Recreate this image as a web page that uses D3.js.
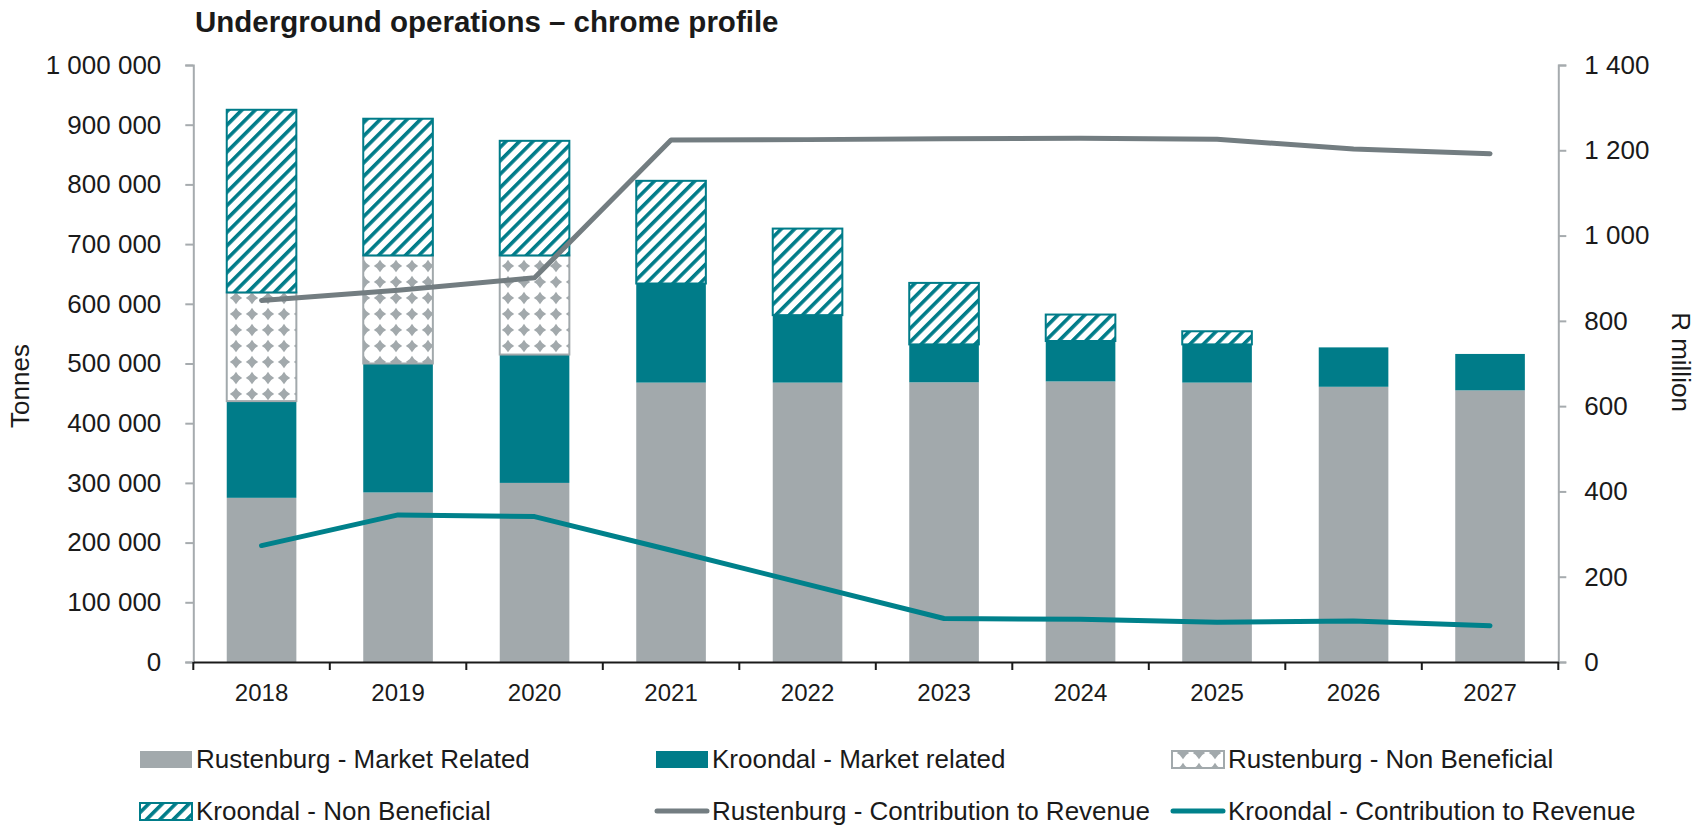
<!DOCTYPE html>
<html>
<head>
<meta charset="utf-8">
<script src="https://cdn.jsdelivr.net/npm/d3@7"></script>
<style>
  body { margin: 0; background: #fff; }
  svg text { font-family: "Liberation Sans", Arial, sans-serif; fill: #1a1a1a; }
</style>
</head>
<body>
<div id="chart"></div>
<script>
const years = ['2018', '2019', '2020', '2021', '2022', '2023', '2024', '2025', '2026', '2027'];

// tonnes
const rustMarket = [275000, 284000, 300000, 468000, 468000, 468500, 470000, 468000, 461000, 455000];
const kroonMarket = [162000, 216000, 215000, 166000, 113000, 63500, 67700, 64000, 66000, 61000];
const rustNonBen = [182000, 181000, 166000, 0, 0, 0, 0, 0, 0, 0];
const kroonNonBen = [306000, 229000, 192000, 172000, 145000, 103000, 44300, 22000, 0, 0];

// R million
const rustRevenue = [848, 872, 901, 1224, 1225, 1227, 1228, 1226, 1203, 1192];
const kroonRevenue = [273, 345, 341, 262, 182, 102, 100, 93, 96, 85];

const leftTicks = [0, 100000, 200000, 300000, 400000, 500000, 600000, 700000, 800000, 900000, 1000000];
const rightTicks = [0, 200, 400, 600, 800, 1000, 1200, 1400];

const W = 1704, H = 827;
const plotLeft = 193.3, plotRight = 1558.3, plotTop = 65, plotBottom = 662;

const grey = '#a2a9ac', teal = '#007c89', greyLine = '#737d81', tealLine = '#00818b';

const svg = d3.select('#chart').append('svg')
  .attr('width', W)
  .attr('height', H);

// patterns
const defs = svg.append('defs');
const hatch = defs.append('pattern')
  .attr('id', 'hatch')
  .attr('patternUnits', 'userSpaceOnUse')
  .attr('width', 9.5)
  .attr('height', 9.5)
  .attr('patternTransform', 'rotate(45)');
hatch.append('rect').attr('width', 9.5).attr('height', 9.5).attr('fill', '#fff');
hatch.append('rect').attr('width', 3.6).attr('height', 9.5).attr('fill', teal);

// grey diamonds on white
const dots = defs.append('pattern')
  .attr('id', 'dots')
  .attr('patternUnits', 'userSpaceOnUse')
  .attr('width', 16)
  .attr('height', 16)
  .attr('x', 4)
  .attr('y', 2);
dots.append('rect').attr('width', 16).attr('height', 16).attr('fill', '#fff');
dots.append('path')
  .attr('transform', 'translate(8,8)')
  .attr('d', 'M0,-6.2 Q1.9,-1.9 6.2,0 Q1.9,1.9 0,6.2 Q-1.9,1.9 -6.2,0 Q-1.9,-1.9 0,-6.2 Z')
  .attr('fill', grey);

const x = d3.scaleBand()
  .domain(years)
  .range([plotLeft, plotRight])
  .paddingInner(0.49)
  .paddingOuter(0.245);

const y = d3.scaleLinear().domain([0, 1000000]).range([plotBottom, plotTop]);
const y2 = d3.scaleLinear().domain([0, 1400]).range([plotBottom, plotTop]);

const rows = years.map((yr, i) => ({
  year: yr,
  rustMarket: rustMarket[i],
  kroonMarket: kroonMarket[i],
  rustNonBen: rustNonBen[i],
  kroonNonBen: kroonNonBen[i]
}));

const keys = ['rustMarket', 'kroonMarket', 'rustNonBen', 'kroonNonBen'];
const fills = {
  rustMarket: grey,
  kroonMarket: teal,
  rustNonBen: 'url(#dots)',
  kroonNonBen: 'url(#hatch)'
};
const strokes = {
  rustMarket: 'none',
  kroonMarket: 'none',
  rustNonBen: grey,
  kroonNonBen: teal
};

const stacked = d3.stack().keys(keys)(rows);

// axes
const fmt = d => d3.format(',')(d).replace(/,/g, ' ');

const yAxis = d3.axisLeft(y).tickValues(leftTicks).tickSize(8).tickPadding(24).tickFormat(fmt);
const gy = svg.append('g')
  .attr('transform', `translate(${plotLeft},0)`)
  .call(yAxis);
gy.select('.domain').attr('stroke', '#a6abae').attr('stroke-width', 2);
gy.selectAll('.tick line').attr('stroke', '#a6abae').attr('stroke-width', 2);
gy.selectAll('.tick text').style('font-size', '26px').attr('fill', '#1a1a1a');

const y2Axis = d3.axisRight(y2).tickValues(rightTicks).tickSize(8).tickPadding(18).tickFormat(fmt);
const gy2 = svg.append('g')
  .attr('transform', `translate(${plotRight},0)`)
  .call(y2Axis);
gy2.select('.domain').attr('stroke', '#a6abae').attr('stroke-width', 2);
gy2.selectAll('.tick line').attr('stroke', '#a6abae').attr('stroke-width', 2);
gy2.selectAll('.tick text').style('font-size', '26px').attr('fill', '#1a1a1a');

// bars
svg.append('g')
  .selectAll('g')
  .data(stacked)
  .join('g')
  .each(function(layer) {
    d3.select(this).selectAll('rect')
      .data(layer.filter(d => d[1] - d[0] > 0))
      .join('rect')
      .attr('x', d => x(d.data.year))
      .attr('width', x.bandwidth())
      .attr('y', d => y(d[1]))
      .attr('height', d => y(d[0]) - y(d[1]))
      .attr('fill', fills[layer.key])
      .attr('stroke', strokes[layer.key])
      .attr('stroke-width', strokes[layer.key] === 'none' ? 0 : 2);
  });

// x axis
const xAxis = d3.axisBottom(x).tickSize(0).tickPadding(22);
const gx = svg.append('g')
  .attr('transform', `translate(0,${plotBottom})`)
  .call(xAxis);
gx.select('.domain').attr('stroke', '#1a1a1a').attr('stroke-width', 2);
gx.selectAll('.tick text').style('font-size', '24px').attr('fill', '#1a1a1a');
gx.selectAll('.sep')
  .data(d3.range(years.length + 1))
  .join('line')
  .attr('class', 'sep')
  .attr('x1', i => plotLeft + i * x.step())
  .attr('x2', i => plotLeft + i * x.step())
  .attr('y1', 0)
  .attr('y2', 8)
  .attr('stroke', '#1a1a1a')
  .attr('stroke-width', 2);

// lines
const lineOf = d3.line()
  .x((d, i) => x(years[i]) + x.bandwidth() / 2)
  .y(d => y2(d));

svg.append('path')
  .datum(rustRevenue)
  .attr('d', lineOf)
  .attr('fill', 'none')
  .attr('stroke', greyLine)
  .attr('stroke-width', 5)
  .attr('stroke-linecap', 'round')
  .attr('stroke-linejoin', 'round');

svg.append('path')
  .datum(kroonRevenue)
  .attr('d', lineOf)
  .attr('fill', 'none')
  .attr('stroke', tealLine)
  .attr('stroke-width', 5)
  .attr('stroke-linecap', 'round')
  .attr('stroke-linejoin', 'round');

// titles
svg.append('text')
  .attr('x', 195)
  .attr('y', 32)
  .style('font-size', '29.5px')
  .style('font-weight', 'bold')
  .text('Underground operations \u2013 chrome profile');

svg.append('text')
  .attr('transform', 'translate(29,386) rotate(-90)')
  .attr('text-anchor', 'middle')
  .style('font-size', '26px')
  .text('Tonnes');

svg.append('text')
  .attr('transform', 'translate(1672,362) rotate(90)')
  .attr('text-anchor', 'middle')
  .style('font-size', '26px')
  .text('R million');

// legend
const legendItems = [
  { label: 'Rustenburg - Market Related', type: 'rect', fill: grey, stroke: 'none' },
  { label: 'Kroondal - Market related', type: 'rect', fill: teal, stroke: 'none' },
  { label: 'Rustenburg - Non Beneficial', type: 'rect', fill: 'url(#dots)', stroke: grey },
  { label: 'Kroondal - Non Beneficial', type: 'rect', fill: 'url(#hatch)', stroke: teal },
  { label: 'Rustenburg - Contribution to Revenue', type: 'line', stroke: greyLine },
  { label: 'Kroondal - Contribution to Revenue', type: 'line', stroke: tealLine }
];
const colX = [139, 655, 1171];
const rowY = [759, 811];

const lg = svg.append('g')
  .selectAll('g')
  .data(legendItems)
  .join('g')
  .attr('transform', (d, i) => `translate(${colX[i % 3]},${rowY[Math.floor(i / 3)]})`);

lg.filter(d => d.type === 'rect')
  .append('rect')
  .attr('x', 1)
  .attr('y', -8)
  .attr('width', 52)
  .attr('height', 17)
  .attr('fill', d => d.fill)
  .attr('stroke', d => d.stroke)
  .attr('stroke-width', d => d.stroke === 'none' ? 0 : 2);

lg.filter(d => d.type === 'line')
  .append('line')
  .attr('x1', 2)
  .attr('x2', 52)
  .attr('y1', 0)
  .attr('y2', 0)
  .attr('stroke', d => d.stroke)
  .attr('stroke-width', 5)
  .attr('stroke-linecap', 'round');

lg.append('text')
  .attr('x', 57)
  .attr('y', 0)
  .attr('dy', '0.35em')
  .style('font-size', '26px')
  .text(d => d.label);
</script>
</body>
</html>
